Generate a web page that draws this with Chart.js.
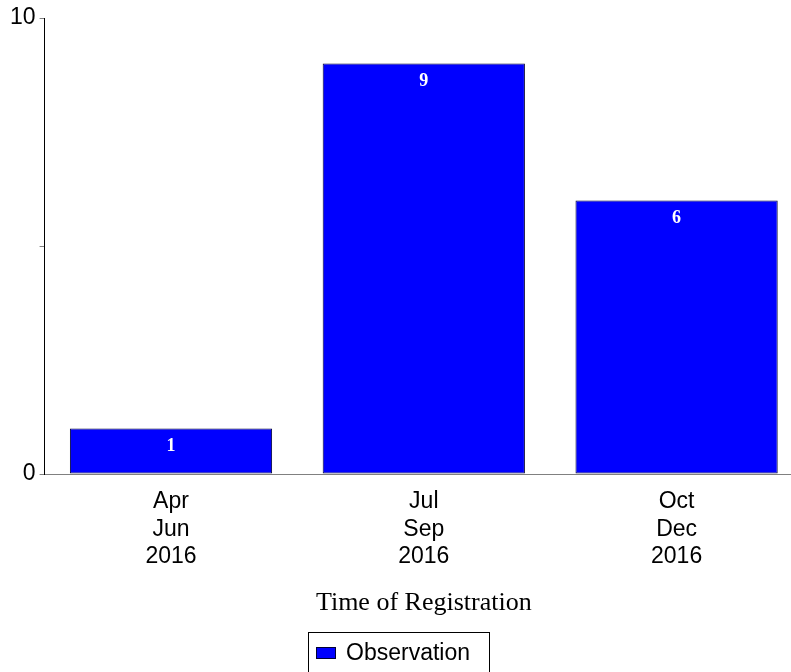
<!DOCTYPE html>
<html>
<head>
<meta charset="utf-8">
<script src="https://cdn.jsdelivr.net/npm/chart.js@4.4.1/dist/chart.umd.min.js"></script>
<style>
  html, body { margin: 0; padding: 0; background: #fff; overflow: hidden; }
  #wrap { position: relative; width: 803px; height: 672px; }
</style>
</head>
<body>
<div id="wrap"><canvas id="registrationChart"></canvas></div>
<script>
const categories = [['Apr', 'Jun', '2016'], ['Jul', 'Sep', '2016'], ['Oct', 'Dec', '2016']];
const observations = [1, 9, 6];
const seriesName = 'Observation';
const yTickLabels = { 0: '0', 10: '10' };
const xTitle = 'Time of Registration';

const barColor = '#0000ff';
const barEdge = '#000033';

// white value labels just under the top of each bar
const barValues = {
    id: 'barValues',
    afterDatasetsDraw(chart) {
        const ctx = chart.ctx;
        const meta = chart.getDatasetMeta(0);
        ctx.save();
        ctx.fillStyle = '#ffffff';
        ctx.font = 'bold 18px "Liberation Serif", "Times New Roman", serif';
        ctx.textAlign = 'center';
        ctx.textBaseline = 'middle';
        meta.data.forEach((bar, i) => {
            ctx.fillText(String(observations[i]), bar.x, bar.y + 18);
        });
        ctx.restore();
    }
};

// boxed legend at the bottom, like the original
const boxLegend = {
    id: 'boxLegend',
    afterDraw(chart) {
        const ctx = chart.ctx;
        ctx.save();
        ctx.strokeStyle = '#000';
        ctx.lineWidth = 1;
        ctx.strokeRect(308.5, 632.5, 181, 60);
        ctx.fillStyle = barColor;
        ctx.fillRect(316, 647, 20, 12);
        ctx.strokeStyle = barEdge;
        ctx.strokeRect(316.5, 647.5, 19, 11);
        ctx.fillStyle = '#000';
        ctx.font = '23px "Liberation Sans", Arial, sans-serif';
        ctx.textAlign = 'left';
        ctx.textBaseline = 'middle';
        ctx.fillText(chart.data.datasets[0].label, 346, 654);
        ctx.restore();
    }
};

const ctx = document.getElementById('registrationChart').getContext('2d');
new Chart(ctx, {
    type: 'bar',
    data: {
        labels: categories,
        datasets: [{
            label: seriesName,
            data: observations,
            backgroundColor: barColor,
            borderColor: barEdge,
            borderWidth: 1,
            borderSkipped: false,
            barPercentage: 0.8,
            categoryPercentage: 1.0
        }]
    },
    options: {
        responsive: true,
        maintainAspectRatio: false,
        animation: false,
        layout: { padding: { top: 18, left: 0, right: 0, bottom: 0 } },
        plugins: { legend: { display: false }, tooltip: { enabled: false } },
        scales: {
            x: {
                grid: { display: false, drawTicks: false },
                border: { display: true, color: '#808080', width: 1 },
                ticks: {
                    color: '#000',
                    padding: 14,
                    maxRotation: 0,
                    font: { family: '"Liberation Sans", Arial, sans-serif', size: 23, lineHeight: 1.2 }
                },
                title: {
                    display: true,
                    text: xTitle,
                    color: '#000',
                    font: { family: '"Liberation Serif", "Times New Roman", serif', size: 26, lineHeight: 1.2 },
                    padding: { top: 0, bottom: 53 }
                },
                afterFit(scale) { scale.height = 198; }
            },
            y: {
                min: 0,
                max: 10,
                grid: { drawOnChartArea: false, drawTicks: true, tickLength: 5, color: '#808080' },
                border: { display: true, color: '#000', width: 1 },
                ticks: {
                    stepSize: 5,
                    color: '#000',
                    padding: 4,
                    font: { family: '"Liberation Sans", Arial, sans-serif', size: 23 },
                    callback: v => yTickLabels[v] || ''
                },
                afterFit(scale) { scale.width = 44.6; }
            }
        }
    },
    plugins: [barValues, boxLegend]
});
</script>
</body>
</html>
